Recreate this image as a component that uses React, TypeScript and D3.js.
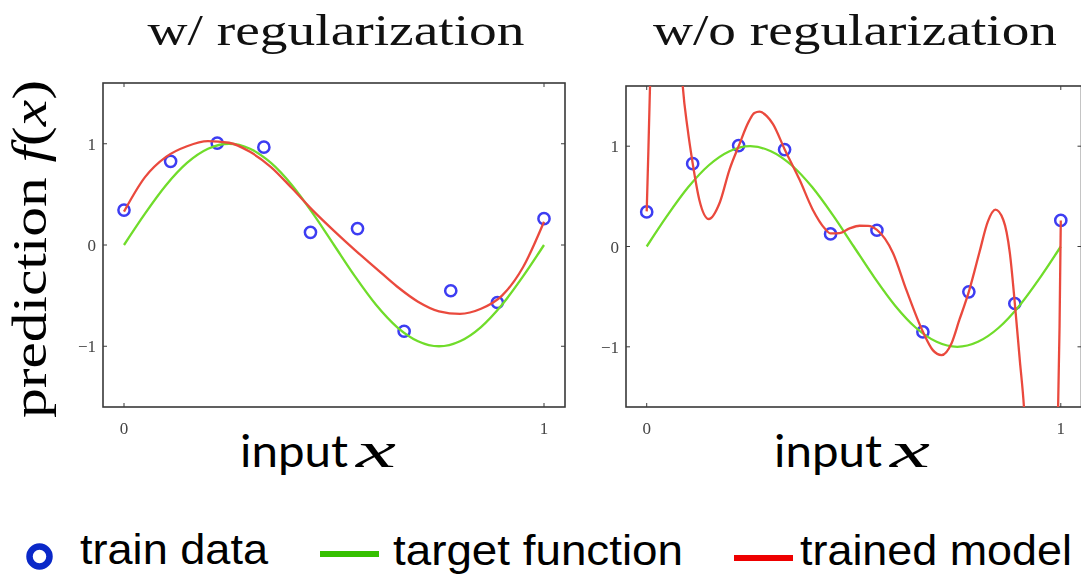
import React from "react";
import * as d3 from "d3";

// Training samples (10 points on [0, 1])
const trainX = [0, 0.111, 0.222, 0.333, 0.444, 0.556, 0.667, 0.778, 0.889, 1];
const trainY = [0.345, 0.826, 1.006, 0.966, 0.125, 0.162, -0.852, -0.452, -0.568, 0.26];

// Target function, sampled every 0.05
const targetX = [0, 0.05, 0.1, 0.15, 0.2, 0.25, 0.3, 0.35, 0.4, 0.45, 0.5, 0.55, 0.6, 0.65, 0.7, 0.75, 0.8, 0.85, 0.9, 0.95, 1];
const targetY = [0, 0.31, 0.59, 0.81, 0.95, 1.0, 0.95, 0.81, 0.59, 0.31, 0, -0.31, -0.59, -0.81, -0.95, -1.0, -0.95, -0.81, -0.59, -0.31, 0];

// Regularized fit
const regX = [0, 0.05, 0.1, 0.15, 0.2, 0.25, 0.3, 0.35, 0.4, 0.45, 0.5, 0.55, 0.6, 0.65, 0.7, 0.75, 0.8, 0.85, 0.9, 0.95, 1];
const regY = [0.33, 0.67, 0.87, 0.975, 1.025, 1.01, 0.92, 0.77, 0.56, 0.34, 0.14, -0.05, -0.23, -0.41, -0.56, -0.655, -0.68, -0.63, -0.5, -0.22, 0.23];

// Unregularized fit (leaves the axes box near both ends)
const overX = [0, 0.004, 0.008, 0.015, 0.03, 0.05, 0.065, 0.078, 0.087, 0.099, 0.111, 0.127, 0.15, 0.176, 0.2, 0.222, 0.247, 0.26, 0.272, 0.29, 0.305, 0.333, 0.369, 0.401, 0.43, 0.444, 0.466, 0.49, 0.514, 0.535, 0.556, 0.595, 0.627, 0.667, 0.691, 0.712, 0.736, 0.756, 0.767, 0.778, 0.79, 0.804, 0.824, 0.842, 0.861, 0.877, 0.889, 0.901, 0.911, 0.92, 0.94, 0.96, 0.975, 0.987, 0.9935, 0.997, 1];
const overY = [0.35, 0.95, 1.6, 2.6, 4.0, 4.6, 3.6, 2.2, 1.6, 1.167, 0.83, 0.467, 0.274, 0.434, 0.767, 1.0, 1.25, 1.33, 1.344, 1.3, 1.22, 0.97, 0.667, 0.367, 0.18, 0.13, 0.134, 0.18, 0.207, 0.205, 0.165, -0.067, -0.433, -0.85, -1.033, -1.083, -0.966, -0.72, -0.59, -0.45, -0.27, -0.05, 0.25, 0.367, 0.267, -0.066, -0.567, -1.133, -1.6, -2.3, -3.5, -3.8, -3.0, -2.2, -1.6, -0.8, 0.26];

const xTicks = [0, 1];
const xTickLabels = ["0", "1"];
const yTicks = [-1, 0, 1];
const yTickLabels = ["\u22121", "0", "1"];

const X_DOMAIN: [number, number] = [-0.05, 1.05];
const Y_DOMAIN: [number, number] = [-1.6, 1.6];

const C_TRAIN = "#3c3cf2";
const C_TARGET = "#6fdc2a";
const C_MODEL = "#ea4a3e";
const C_FRAME = "#3a3a3a";
const C_TICKTEXT = "#444";

type PanelProps = {
  id: string;
  left: number;
  right: number;
  top: number;
  bottom: number;
  fitX: number[];
  fitY: number[];
  title: string;
  titleWidth: number;
  titleX: number;
  labelX: number;
};

function Panel(p: PanelProps) {
  const x = d3.scaleLinear().domain(X_DOMAIN).range([p.left, p.right]);
  const y = d3.scaleLinear().domain(Y_DOMAIN).range([p.bottom, p.top]);
  const line = d3
    .line<[number, number]>()
    .x((d) => x(d[0]))
    .y((d) => y(d[1]))
    .curve(d3.curveMonotoneX);
  const target = line(targetX.map((v, i) => [v, targetY[i]]) as [number, number][]) || "";
  const fit = line(p.fitX.map((v, i) => [v, p.fitY[i]]) as [number, number][]) || "";
  const tick = 4;

  return (
    <g>
      <defs>
        <clipPath id={`clip-${p.id}`}>
          <rect x={p.left} y={p.top} width={p.right - p.left} height={p.bottom - p.top} />
        </clipPath>
      </defs>
      <g filter="url(#soft)">
        <rect
          x={p.left}
          y={p.top}
          width={p.right - p.left}
          height={p.bottom - p.top}
          fill="none"
          stroke={C_FRAME}
          strokeWidth={1.6}
        />
        {xTicks.map((t) => (
          <g key={`xt${t}`}>
            <line x1={x(t)} x2={x(t)} y1={p.bottom} y2={p.bottom - tick} stroke={C_FRAME} strokeWidth={1} />
            <line x1={x(t)} x2={x(t)} y1={p.top} y2={p.top + tick} stroke={C_FRAME} strokeWidth={1} />
          </g>
        ))}
        {yTicks.map((t) => (
          <g key={`yt${t}`}>
            <line x1={p.left} x2={p.left + tick} y1={y(t)} y2={y(t)} stroke={C_FRAME} strokeWidth={1} />
            <line x1={p.right} x2={p.right - tick} y1={y(t)} y2={y(t)} stroke={C_FRAME} strokeWidth={1} />
          </g>
        ))}
        {xTicks.map((t, i) => (
          <text
            key={`xl${t}`}
            x={x(t)}
            y={p.bottom + 27}
            textAnchor="middle"
            fontFamily="'Liberation Serif', serif"
            fontSize={17}
            fill={C_TICKTEXT}
          >
            {xTickLabels[i]}
          </text>
        ))}
        {yTicks.map((t, i) => (
          <text
            key={`yl${t}`}
            x={p.left - 7}
            y={y(t) + 6}
            textAnchor="end"
            fontFamily="'Liberation Serif', serif"
            fontSize={17}
            fill={C_TICKTEXT}
          >
            {yTickLabels[i]}
          </text>
        ))}
        <g clipPath={`url(#clip-${p.id})`}>
          {trainX.map((v, i) => (
            <circle key={i} cx={x(v)} cy={y(trainY[i])} r={5.6} fill="none" stroke={C_TRAIN} strokeWidth={2.5} />
          ))}
          <path d={target} fill="none" stroke={C_TARGET} strokeWidth={2.3} />
          <path d={fit} fill="none" stroke={C_MODEL} strokeWidth={2.3} />
        </g>
      </g>
      <text
        x={p.titleX}
        y={45}
        textAnchor="middle"
        fontFamily="'Liberation Serif', serif"
        fontSize={44}
        textLength={p.titleWidth}
        lengthAdjust="spacingAndGlyphs"
        fill="#111"
      >
        {p.title}
      </text>
      <text
        x={p.labelX}
        y={467}
        fill="#000"
        fontFamily="Lato, sans-serif"
        fontSize={44}
        textLength={108}
        lengthAdjust="spacingAndGlyphs"
      >
        input
      </text>
      <text
        x={p.labelX + 116}
        y={467}
        fill="#000"
        fontFamily="'Liberation Serif', serif"
        fontStyle="italic"
        fontSize={50}
        textLength={40}
        lengthAdjust="spacingAndGlyphs"
      >
        x
      </text>
    </g>
  );
}

export default function App() {
  return (
    <svg
      width={1081}
      height={575}
      viewBox="0 0 1081 575"
      style={{ position: "absolute", left: 0, top: 0, background: "#fff" }}
    >
      <defs>
        <filter id="soft" x="-5%" y="-5%" width="110%" height="110%">
          <feGaussianBlur stdDeviation={0.45} />
        </filter>
      </defs>
      <rect width={1081} height={575} fill="#fff" />

      <Panel
        id="reg"
        left={103}
        right={565}
        top={83}
        bottom={407}
        fitX={regX}
        fitY={regY}
        title="w/ regularization"
        titleWidth={377}
        titleX={336}
        labelX={240}
      />
      <Panel
        id="noreg"
        left={626}
        right={1081.5}
        top={86}
        bottom={407}
        fitX={overX}
        fitY={overY}
        title="w/o regularization"
        titleWidth={404}
        titleX={855}
        labelX={774}
      />

      {/* shared y-axis label */}
      <text
        transform="translate(46,249) rotate(-90)"
        textAnchor="middle"
        fontFamily="'Liberation Serif', serif"
        fontSize={48}
        textLength={338}
        lengthAdjust="spacingAndGlyphs"
        fill="#000"
      >
        prediction <tspan fontStyle="italic">f</tspan>(<tspan fontStyle="italic">x</tspan>)
      </text>

      {/* legend */}
      <g fontFamily="'Liberation Sans', Arial, sans-serif" fontSize={43} fill="#000">
        <circle cx={39.5} cy={556.5} r={10} fill="none" stroke="#0a28c8" strokeWidth={6.5} />
        <text x={80} y={564} textLength={188} lengthAdjust="spacingAndGlyphs">
          train data
        </text>
        <line x1={320} x2={379} y1={554} y2={554} stroke="#35c000" strokeWidth={6} />
        <text x={393} y={565} textLength={290} lengthAdjust="spacingAndGlyphs">
          target function
        </text>
        <line x1={734} x2={793} y1={558} y2={558} stroke="#ee0000" strokeWidth={6} />
        <text x={800} y={565} textLength={272} lengthAdjust="spacingAndGlyphs">
          trained model
        </text>
      </g>
    </svg>
  );
}
